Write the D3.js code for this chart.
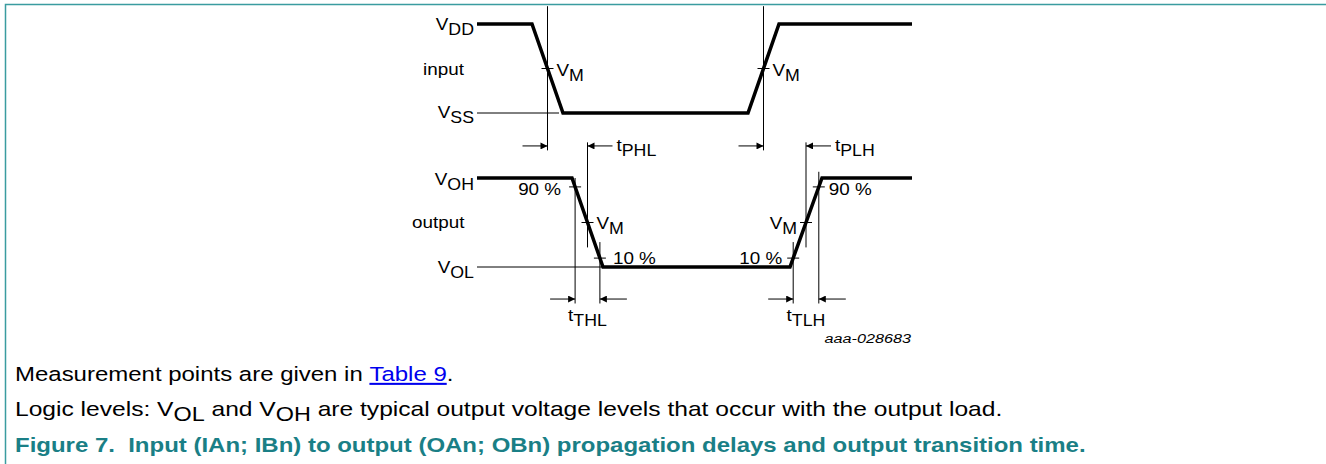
<!DOCTYPE html>
<html>
<head>
<meta charset="utf-8">
<script src="https://cdn.jsdelivr.net/npm/d3@7/dist/d3.min.js"></script>
<style>
  html, body { margin: 0; padding: 0; background: #fff; }
  svg { display: block; font-family: "Liberation Sans", Arial, sans-serif; }
</style>
</head>
<body>
<svg id="chart" width="1326" height="464"></svg>
<script>
// ---- data ----
const timeDomain = [0, 435];
const inputTimes = [0, 55, 86, 271, 302, 435];
const inputLevels = [1, 1, 0, 0, 1, 1];
const outputTimes = [0, 95, 126, 313, 345, 435];
const outputLevels = [1, 1, 0, 0, 1, 1];
const inputLevelNames = [["V", "SS"], ["V", "DD"]];
const outputLevelNames = [["V", "OL"], ["V", "OH"]];
const vmLevel = 0.5;
const outputPctLevels = [0.9, 0.1];
const pctLabels = ["90 %", "10 %"];
const figureId = "aaa-028683";
const noteLines = [
  "Measurement points are given in ",
  "Logic levels: "
];
const captionText = "Figure 7.  Input (IAn; IBn) to output (OAn; OBn) propagation delays and output transition time.";

// ---- scales ----
const svg = d3.select("#chart");
const x = d3.scaleLinear().domain(timeDomain).range([477, 912]);
const yIn = d3.scaleLinear().domain([0, 1]).range([113, 24]);
const yOut = d3.scaleLinear().domain([0, 1]).range([267, 178]);

const teal = "#3a9ca0";
// frame
svg.append("path").attr("d", "M5.5,464 V4.5 H1326").attr("fill", "none")
  .attr("stroke", teal).attr("stroke-width", 1.5);

// arrow marker
const defs = svg.append("defs");
defs.append("marker").attr("id", "ah").attr("viewBox", "0 0 10 10")
  .attr("refX", 10).attr("refY", 5).attr("markerWidth", 9).attr("markerHeight", 7)
  .attr("markerUnits", "userSpaceOnUse").attr("orient", "auto")
  .append("path").attr("d", "M0,0 L10,5 L0,10 Z").attr("fill", "#000");

// crossing time helper
function crossings(times, levels, lvl) {
  const out = [];
  for (let i = 0; i < times.length - 1; i++) {
    const a = levels[i], b = levels[i + 1];
    if (a !== b && ((lvl - a) * (lvl - b) <= 0)) {
      out.push(times[i] + (lvl - a) / (b - a) * (times[i + 1] - times[i]));
    }
  }
  return out;
}

const g = svg.append("g");
function thin(x1, y1, x2, y2) {
  g.append("line").attr("x1", x1).attr("y1", y1).attr("x2", x2).attr("y2", y2)
    .attr("stroke", "#000").attr("stroke-width", 1);
}
function arrow(xFrom, xTo, y) {
  g.append("line").attr("x1", xFrom).attr("y1", y).attr("x2", xTo).attr("y2", y)
    .attr("stroke", "#000").attr("stroke-width", 1).attr("marker-end", "url(#ah)");
}
const SX = 1.11;
function label(xp, yp, main, sub, anchor, size) {
  size = size || 17;
  const t = g.append("text").attr("transform", `translate(${xp},${yp}) scale(${SX},1)`)
    .attr("font-size", size)
    .attr("text-anchor", anchor || "start").attr("fill", "#000");
  t.append("tspan").text(main);
  if (sub) t.append("tspan").attr("dy", 5).attr("font-size", size - 1).text(sub);
  return t;
}

// reference thin level lines (low level)
const inLowEnd = inputTimes[inputLevels.indexOf(0)];
thin(x(timeDomain[0]), yIn(0), x(inLowEnd) - 4, yIn(0));
const outLowEnd = outputTimes[outputLevels.indexOf(0)];
thin(x(timeDomain[0]), yOut(0), x(outLowEnd), yOut(0));

// waveforms
const lineIn = d3.line().x((d, i) => x(inputTimes[i])).y(d => yIn(d));
const lineOut = d3.line().x((d, i) => x(outputTimes[i])).y(d => yOut(d));
svg.append("path").attr("d", lineIn(inputLevels)).attr("fill", "none")
  .attr("stroke", "#000").attr("stroke-width", 3.5).attr("stroke-linejoin", "miter");
svg.append("path").attr("d", lineOut(outputLevels)).attr("fill", "none")
  .attr("stroke", "#000").attr("stroke-width", 3.5).attr("stroke-linejoin", "miter");

// level labels
label(474, 30, inputLevelNames[1][0], inputLevelNames[1][1], "end");
label(474, 118, inputLevelNames[0][0], inputLevelNames[0][1], "end");
label(474, 185, outputLevelNames[1][0], outputLevelNames[1][1], "end");
label(474, 273, outputLevelNames[0][0], outputLevelNames[0][1], "end");
label(423, 75, "input");
label(412, 228, "output");

// crossings
const inVM = crossings(inputTimes, inputLevels, vmLevel);
const outVM = crossings(outputTimes, outputLevels, vmLevel);
const out90 = crossings(outputTimes, outputLevels, outputPctLevels[0]);
const out10 = crossings(outputTimes, outputLevels, outputPctLevels[1]);

const tick = 6;
// input VM ticks + verticals + arrows
inVM.forEach((t, i) => {
  const cx = x(t), cy = yIn(vmLevel);
  thin(cx - tick, cy, cx + tick, cy);
  thin(cx, yIn(1.2), cx, yIn(-0.42));
  arrow(cx - 25, cx, yIn(-0.37));
  label(cx + 9, cy + 7, "V", "M");
});
// output VM ticks + tPHL/tPLH verticals
const tpNames = ["PHL", "PLH"];
outVM.forEach((t, i) => {
  const cx = x(t), cy = yOut(vmLevel);
  thin(cx - tick, cy, cx + tick, cy);
  thin(cx, yIn(-0.33), cx, yOut(0.22));
  arrow(cx + 25, cx, yIn(-0.37));
  label(cx + 29, yIn(-0.37) + 5, "t", tpNames[i]);
  if (i === 0) label(cx + 9, cy + 6, "V", "M");
  else label(cx - 9, cy + 6, "V", "M", "end");
});
// 90% and 10% ticks
const ttNames = ["THL", "TLH"];
const arrowY = yOut(-0.36);
out90.forEach((t, i) => {
  const cx = x(t), cy = yOut(outputPctLevels[0]);
  thin(cx - tick, cy, cx + tick, cy);
  thin(cx, i === 0 ? yOut(1) : yOut(1.07), cx, yOut(-0.41));
  if (i === 0) label(cx - 14, cy + 8, pctLabels[0], null, "end");
  else label(cx + 10, cy + 8, pctLabels[0]);
});
out10.forEach((t, i) => {
  const cx = x(t), cy = yOut(outputPctLevels[1]);
  thin(cx - tick, cy, cx + tick, cy);
  thin(cx, yOut(0.28), cx, yOut(-0.41));
  if (i === 0) label(cx + 13, cy + 6, pctLabels[1]);
  else label(cx - 11, cy + 6, pctLabels[1], null, "end");
});
// transition time arrows
[[out90[0], out10[0]], [out10[1], out90[1]]].forEach((pair, i) => {
  const a = x(pair[0]), b = x(pair[1]);
  arrow(a - 25, a, arrowY);
  arrow(b + 27, b, arrowY);
  const mid = (a + b) / 2;
  label(mid, arrowY + 22, "t", ttNames[i], "middle");
});

// figure id
g.append("text").attr("transform", "translate(911,343) scale(1.2,1)").attr("text-anchor", "end")
  .attr("font-size", 13.5).attr("font-style", "italic").text(figureId);

// notes
const NSX = 1.17;
const NFS = 20.5;
const n1 = svg.append("text").attr("transform", `translate(15,381) scale(${NSX},1)`).attr("font-size", NFS);
n1.append("tspan").text(noteLines[0]);
n1.append("tspan").attr("fill", "#0000ee").attr("text-decoration", "underline").text("Table 9");
n1.append("tspan").text(".");

const n2 = svg.append("text").attr("transform", `translate(15,416) scale(1.2,1)`).attr("font-size", NFS);
n2.append("tspan").text(noteLines[1] + "V");
n2.append("tspan").attr("dy", 5).attr("font-size", NFS - 1).text("OL");
n2.append("tspan").attr("dy", -5).text(" and V");
n2.append("tspan").attr("dy", 5).attr("font-size", NFS - 1).text("OH");
n2.append("tspan").attr("dy", -5).text(" are typical output voltage levels that occur with the output load.");

svg.append("text").attr("transform", `translate(15,452) scale(${NSX},1)`).attr("font-size", NFS)
  .attr("font-weight", "bold").attr("fill", "#1a7f86")
  .attr("xml:space", "preserve").style("white-space", "pre").text(captionText);
</script>
</body>
</html>
